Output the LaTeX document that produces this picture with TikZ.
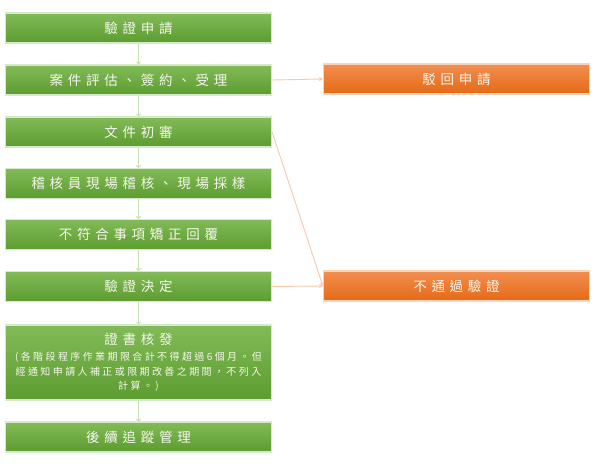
\documentclass[tikz,border=0pt]{standalone}
\usepackage{fontspec}
\setmainfont{Noto Sans CJK TC}
\newfontfamily\cjk[LetterSpace=35]{Noto Sans CJK TC}
\newfontfamily\cjksmall[LetterSpace=24]{Noto Sans CJK TC}
\usetikzlibrary{arrows.meta}
\definecolor{greenTop}{RGB}{130,187,88}
\definecolor{greenBot}{RGB}{92,156,48}
\definecolor{greenEdge}{RGB}{214,233,200}
\definecolor{greenLine}{RGB}{200,224,182}
\definecolor{orangeTop}{RGB}{242,142,80}
\definecolor{orangeBot}{RGB}{228,106,22}
\definecolor{orangeEdge}{RGB}{250,212,184}
\definecolor{orangeLine}{RGB}{248,200,168}
\definecolor{boxText}{RGB}{246,246,236}
\tikzset{
  stepbox/.style={draw=greenEdge, line width=1.2pt, top color=greenTop, bottom color=greenBot,
    minimum width=266pt, minimum height=30pt, inner sep=0pt, text=boxText,
    font=\cjk\fontsize{13.5}{16}\selectfont},
  rejectbox/.style={stepbox, draw=orangeEdge, top color=orangeTop, bottom color=orangeBot},
  flow/.style={draw=greenLine, line width=0.9pt, -{To[length=3pt,width=5pt]}},
  rejectflow/.style={draw=orangeLine, line width=0.9pt, -{Stealth[length=4pt,width=4pt]}}
}
\begin{document}
\begin{tikzpicture}[x=1pt,y=1pt,yscale=-1,xscale=1]
\useasboundingbox (0,0) rectangle (594,472);

%Shapes
\node [stepbox] (apply) at (138.5,28) {驗證申請};
\node [stepbox] (assess) at (138.5,80) {案件評估、簽約、受理};
\node [stepbox] (review) at (138.5,132) {文件初審};
\node [stepbox] (audit) at (138.5,183.5) {稽核員現場稽核、現場採樣};
\node [stepbox] (correct) at (138.5,234.5) {不符合事項矯正回覆};
\node [stepbox] (decide) at (138.5,286.5) {驗證決定};
\node [stepbox, minimum height=75pt] (issue) at (138.5,362.5)
  {\begin{minipage}{264pt}\centering
   證書核發\par\vspace{2pt}
   \cjksmall\fontsize{10}{14.5}\selectfont
   (各階段程序作業期限合計不得超過6個月。但\par
   經通知申請人補正或限期改善之期間，不列入\par
   計算。)
   \end{minipage}};
\node [stepbox] (follow) at (138.5,437) {後續追蹤管理};

\node [rejectbox] (returned) at (456.5,79) {駁回申請};
\node [rejectbox] (fail) at (456.5,286) {不通過驗證};

%Straight Lines
\draw [flow] (apply) -- (assess);
\draw [flow] (assess) -- (review);
\draw [flow] (review) -- (audit);
\draw [flow] (audit) -- (correct);
\draw [flow] (correct) -- (decide);
\draw [flow] (decide) -- (issue);
\draw [flow] (issue) -- (follow);

\draw [rejectflow] (assess.east) -- (returned.west);
\draw [rejectflow] (review.east) -- (fail.west);
\draw [rejectflow] (decide.east) -- (fail.west);

\end{tikzpicture}
\end{document}
